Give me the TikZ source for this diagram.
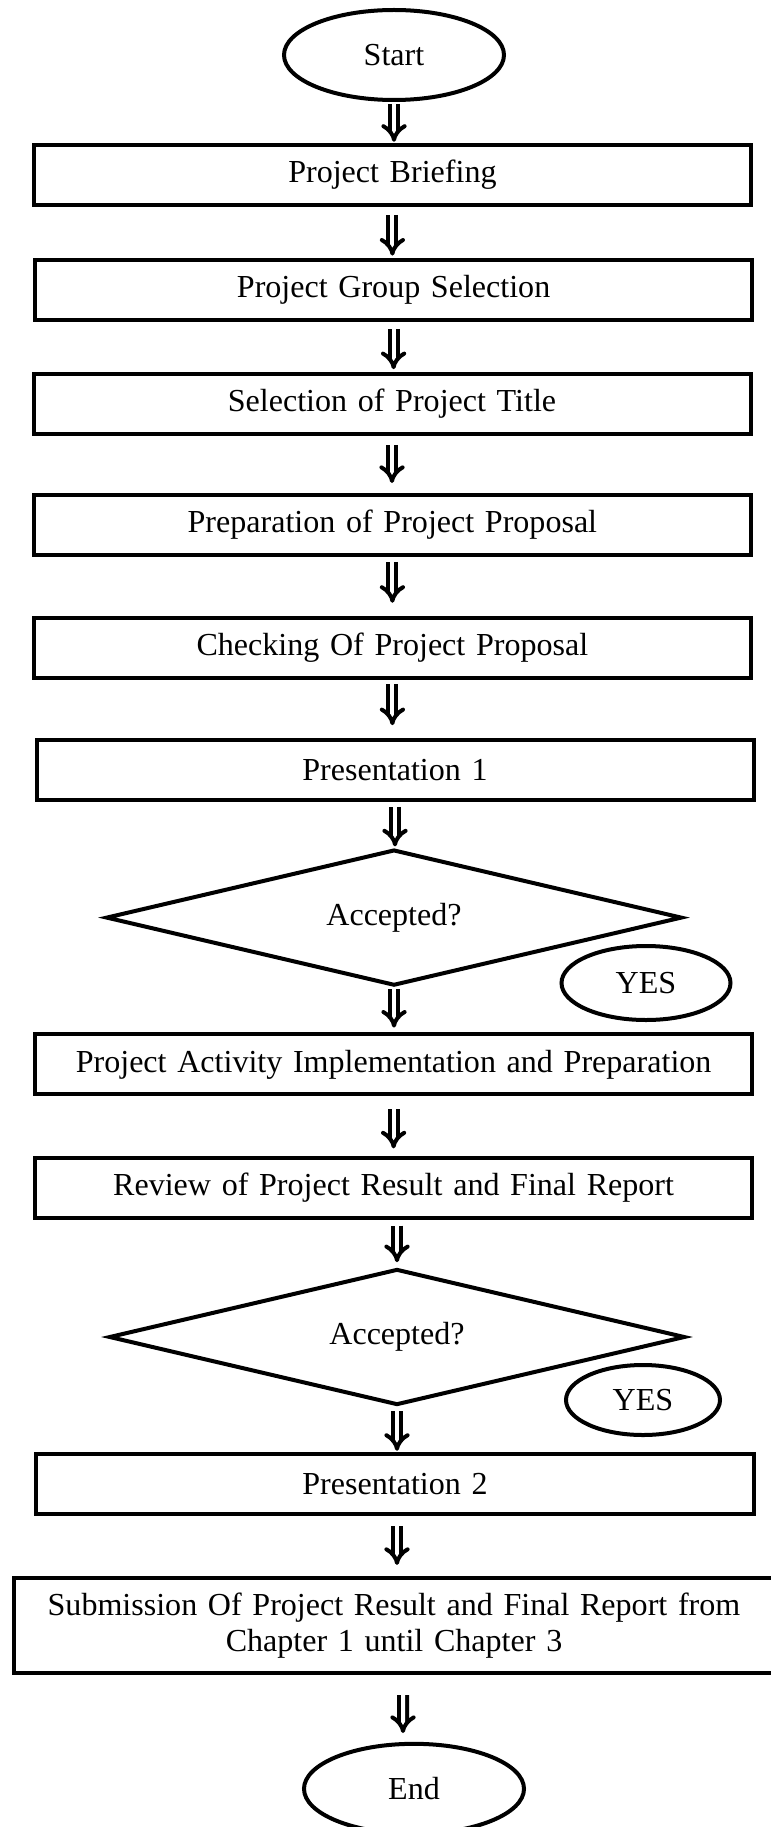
\documentclass[tikz,border=0pt]{standalone}
\usepackage{fontspec}
\setmainfont{Liberation Serif}
\usetikzlibrary{shapes.geometric,arrows.meta}

\tikzset{
	stepbox/.style={rectangle, draw, line width=0.1cm, inner sep=0pt, text width=17.925cm, minimum height=1.5cm, text centered},
	term/.style={ellipse, draw, line width=0.1cm, inner sep=0pt, minimum width=5.5cm, minimum height=2.25cm},
	decide/.style={diamond, draw, line width=0.1cm, inner sep=0pt, shape aspect=4.2, minimum width=14.4cm, minimum height=3.4cm},
	yesmark/.style={ellipse, draw, fill=white, line width=0.1cm, inner sep=0pt},
	flow/.style={double, line width=0.1cm, double distance=0.1cm, -{Implies[scale=1.1]}},
}

\begin{document}
\begin{tikzpicture}[font=\fontsize{22.8pt}{26pt}\selectfont]
		\useasboundingbox (0,0) rectangle (19.25,-45.675);
		
		\node[term] (start) at (9.85,-1.375) {Start};
		\node[stepbox] (brief) at (9.81,-4.375) {Project Briefing};
		\node[stepbox] (group) at (9.84,-7.24) {Project Group Selection};
		\node[stepbox] (title) at (9.8,-10.1) {Selection of Project Title};
		\node[stepbox] (prep) at (9.81,-13.125) {Preparation of Project Proposal};
		\node[stepbox] (check) at (9.81,-16.19) {Checking Of Project Proposal};
		\node[stepbox] (pres1) at (9.875,-19.25) {Presentation 1};
		
		\node[decide] (acc1) at (9.85,-22.94) {Accepted?};
		\node[yesmark, minimum width=4.225cm, minimum height=1.85cm] (yes1) at (16.15,-24.575) {YES};
		
		\node[stepbox] (impl) at (9.84,-26.61) {Project Activity Implementation and Preparation};
		\node[stepbox] (review) at (9.84,-29.69) {Review of Project Result and Final Report};
		
		\node[decide] (acc2) at (9.925,-33.425) {Accepted?};
		\node[yesmark, minimum width=3.85cm, minimum height=1.75cm] (yes2) at (16.075,-35.0) {YES};
		
		\node[stepbox, text width=17.95cm] (pres2) at (9.875,-37.1) {Presentation 2};
		\node[stepbox, text width=19cm, minimum height=2.375cm] (submit) at (9.85,-40.64) {Submission Of Project Result and Final Report from\\Chapter 1 until Chapter 3};
		\node[term] (end) at (10.35,-44.72) {End};
		
		\draw[flow, shorten <=0.05cm, shorten >=0.03cm] (start.south) -- (start.south |- brief.north);
		\draw[flow, shorten <=0.2cm, shorten >=0.05cm] (brief.south) -- (brief.south |- group.north);
		\draw[flow, shorten <=0.18cm, shorten >=0.07cm] (group.south) -- (group.south |- title.north);
		\draw[flow, shorten <=0.22cm, shorten >=0.25cm] (title.south) -- (title.south |- prep.north);
		\draw[flow, shorten <=0.12cm, shorten >=0.32cm] (prep.south) -- (prep.south |- check.north);
		\draw[flow, shorten <=0.12cm, shorten >=0.32cm] (check.south) -- (check.south |- pres1.north);
		\draw[flow, shorten <=0.12cm, shorten >=0.03cm] (pres1.south) -- (pres1.south |- acc1.north);
		\draw[flow, shorten <=0.03cm, shorten >=0.12cm] (acc1.south) -- (acc1.south |- impl.north);
		\draw[flow, shorten <=0.32cm, shorten >=0.18cm] (impl.south) -- (impl.south |- review.north);
		\draw[flow, shorten <=0.15cm, shorten >=0.12cm] (acc2.north |- review.south) -- (acc2.north);
		\draw[flow, shorten <=0.1cm, shorten >=0.03cm] (acc2.south) -- (acc2.south |- pres2.north);
		\draw[flow, shorten <=0.25cm, shorten >=0.28cm] (acc2.south |- pres2.south) -- (acc2.south |- submit.north);
		\draw[flow, shorten <=0.5cm, shorten >=0.22cm] ([xshift=0.225cm]submit.south) -- ([xshift=-0.275cm]end.north);
		
		\end{tikzpicture}
\end{document}
